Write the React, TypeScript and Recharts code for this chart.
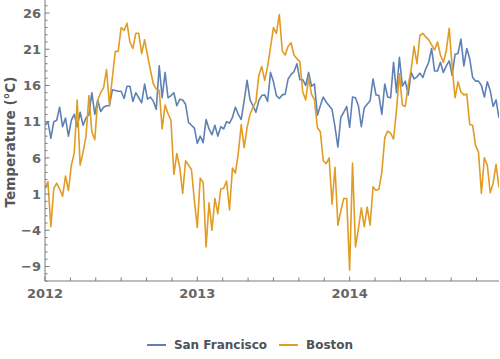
import React from "react";
import { LineChart, Line, XAxis, YAxis } from "recharts";

// Weekly mean temperatures (°C), first week of 2012 through last week of 2014
const sanFrancisco: number[] = [
  10.5, 11, 8.7, 11, 11.2, 13, 10.3, 11.5, 9, 11.2, 12, 10.3, 12.3, 10.5, 11.5, 12, 15, 12, 14, 12.4, 13, 13.2, 13.2, 15.4, 15.3, 15.2, 15.2, 14.2,
  15.9, 15.9, 13.8, 15, 14.3, 13.6, 16.2, 14.1, 14.4, 13.8, 12.7, 18.7, 14.3, 17.8, 14.3, 14.6, 15, 13.2, 14.1, 14, 13.4, 10.9, 10.5, 10.1, 8, 9,
  8.1, 11.3, 10, 9.2, 10.5, 9, 10.3, 10, 11, 10.8, 11.6, 13, 12, 11.3, 13.9, 16.7, 14, 13.2, 12.3, 13.9, 14.6, 14.7, 13.8, 17.8, 16.5, 14.6,
  14.2, 14.7, 14.8, 16.9, 17.5, 17.9, 19, 16.8, 16.8, 16, 17.8, 15.9, 16.2, 11.9, 13.2, 14.4, 13.7, 13.2, 12.7, 10.3, 7.5, 11.6, 12.3, 13.1, 10.2, 14.4,
  14.3, 13.2, 10.3, 12.9, 13.4, 13.9, 16.9, 14.7, 14.6, 12, 16.2, 14.4, 14.3, 19.2, 15, 19.9, 15.9, 16.6, 14.7, 17.8, 16.9, 17.2, 17.7, 17.1, 18.3,
  19.2, 21.1, 18, 18, 19.2, 17.8, 18.7, 19.4, 17.4, 20.3, 20.4, 22.4, 18.7, 21.1, 19.7, 17.1, 16.6, 16.6, 16, 14.4, 16.5, 15.3, 13.1, 14, 11.5,
];

const boston: number[] = [
  1.8, 2.7, -3.5, 1.8, 2.5, 1.7, 0.7, 3.5, 1.5, 5, 6.7, 14, 5, 6.8, 9, 14.6, 9.6, 8.5, 14, 15, 15.7, 18.2, 13.3, 17.1, 20.7, 20.7, 24, 23.6,
  24.6, 22, 21.1, 23.2, 23.2, 20.4, 22.3, 20.2, 18.1, 16.2, 15.5, 15.3, 10, 13.3, 12.1, 11.2, 3.7, 6.6, 4.7, 1.1, 5.6, 5, 4.4, 0.1, -3.6, 3.2,
  2.6, -6.3, -0.2, -4, 0.4, -1.7, 1.7, 1.8, 2.8, -1.2, 4.6, 3.9, 6.7, 10.6, 7.4, 10.2, 12, 13, 13.7, 17.4, 18.6, 16.7, 18.6, 21.3, 24, 23.2,
  25.8, 20.8, 20.2, 21.4, 21.9, 20.2, 19.7, 19.3, 15.1, 14, 17, 14.8, 14, 10.2, 9.6, 5.6, 5.2, 6, -0.4, 4.7, -3.3, -1.3, 0.4, 0.4, -9.5, 5.3,
  -6.3, -3.8, -0.9, -3.5, -0.8, -3.3, 2, 1.5, 1.7, 4, 8.8, 9.7, 9.4, 8.6, 12.6, 17.6, 13.3, 13.1, 16, 18.2, 21.4, 19, 22.9, 23.2, 22.7,
  22.3, 21.6, 20.9, 22, 20.2, 19.2, 20.8, 23.9, 18.6, 14.3, 16.5, 15.1, 14.7, 14.8, 10.6, 10.5, 7.7, 6.8, 1.1, 6, 5, 1.2, 2.5, 5.1, 1.9,
];

const startYear = 2012;
const yearTicks: number[] = [2012, 2013, 2014];
const yMajorTicks: number[] = [-9, -4, 1, 6, 11, 16, 21, 26];
const yMinorTicks: number[] = Array.from({ length: 39 }, (_, i) => -11 + i);
const xMinorTicks: number[] = Array.from({ length: 18 }, (_, i) => 2012 + i / 6);

const data = sanFrancisco.map((sf, i) => ({
  t: startYear + i / 52,
  sf,
  bos: boston[i],
}));

const BLUE = "#5E81B5";
const ORANGE = "#E19C24";
const AXIS = "#7a7a7a";
const LABEL = "#666666";
const FONT = "'DejaVu Sans', sans-serif";

const YTick = (props: any) => {
  const { y, payload } = props;
  const v = payload.value;
  const major = yMajorTicks.includes(v);
  const x0 = 45;
  return (
    <g>
      <line x1={x0} x2={x0 + (major ? 4.5 : 2.5)} y1={y} y2={y} stroke={AXIS} strokeWidth={1} />
      {major && (
        <text x={x0 - 4} y={y} dy="0.36em" textAnchor="end" fill={LABEL}
          style={{ fontFamily: FONT, fontSize: 13, fontWeight: "bold" }}>
          {v < 0 ? "\u2212" + Math.abs(v) : String(v)}
        </text>
      )}
    </g>
  );
};

const XTick = (props: any) => {
  const { x, payload } = props;
  const v = payload.value;
  const major = yearTicks.some((yr) => Math.abs(yr - v) < 1e-6);
  const y0 = 281;
  return (
    <g>
      <line x1={x} x2={x} y1={y0} y2={y0 - (major ? 4.5 : 3.5)} stroke={AXIS} strokeWidth={1} />
      {major && (
        <text x={x} y={y0 + 17} textAnchor="middle" fill={LABEL}
          style={{ fontFamily: FONT, fontSize: 13, fontWeight: "bold" }}>
          {Math.round(v)}
        </text>
      )}
    </g>
  );
};

export default function App() {
  return (
    <div style={{ position: "absolute", left: 0, top: 0, width: 500, height: 359, background: "#fff" }}>
      <LineChart width={500} height={359} data={data} margin={{ top: 0, right: 1, bottom: 0, left: 0 }}>
        <XAxis
          dataKey="t"
          type="number"
          domain={[2012, 2012 + (sanFrancisco.length - 1) / 52]}
          allowDataOverflow
          ticks={xMinorTicks}
          interval={0}
          tickSize={0}
          tickMargin={0}
          tickLine={false}
          tick={<XTick />}
          axisLine={{ stroke: AXIS, strokeWidth: 1 }}
          height={78}
        />
        <YAxis
          type="number"
          domain={[-11, 27.8]}
          allowDataOverflow
          ticks={yMinorTicks}
          interval={0}
          tickSize={0}
          tickMargin={0}
          tickLine={false}
          tick={<YTick />}
          axisLine={{ stroke: AXIS, strokeWidth: 1 }}
          width={45}
        />
        <Line dataKey="sf" stroke={BLUE} strokeWidth={1.6} dot={false} isAnimationActive={false} strokeLinejoin="round" />
        <Line dataKey="bos" stroke={ORANGE} strokeWidth={1.6} dot={false} isAnimationActive={false} strokeLinejoin="round" />
        <text x={10} y={142} transform="rotate(-90 10 142)" textAnchor="middle" dominantBaseline="central" fill="#555"
          style={{ fontFamily: FONT, fontSize: 13.5, fontWeight: "bold" }}>
          Temperature (°C)
        </text>
      </LineChart>
      <div style={{ position: "absolute", left: 0, top: 338, width: 500, display: "flex", justifyContent: "center", alignItems: "center", fontFamily: FONT, fontSize: 12, fontWeight: "bold", color: "#4d5359" }}>
        <span style={{ display: "inline-block", width: 19, height: 2, background: BLUE, marginRight: 8 }} />
        <span style={{ marginRight: 12 }}>San Francisco</span>
        <span style={{ display: "inline-block", width: 19, height: 2, background: ORANGE, marginRight: 8 }} />
        <span>Boston</span>
      </div>
    </div>
  );
}
